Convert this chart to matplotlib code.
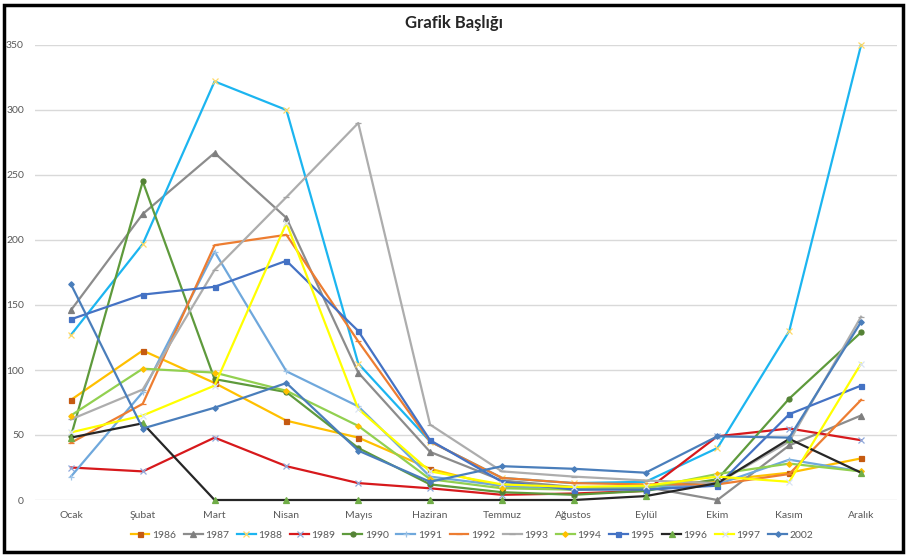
import matplotlib
matplotlib.use("Agg")
import matplotlib.pyplot as plt
from matplotlib.patches import Rectangle

plt.rcParams['font.family'] = ['Lato', 'DejaVu Sans']

months = ["Ocak", "Şubat", "Mart", "Nisan", "Mayıs", "Haziran", "Temmuz",
          "Ağustos", "Eylül", "Ekim", "Kasım", "Aralık"]

y1986 = [77, 115, 90, 61, 48, 24, 10, 9, 10, 15, 21, 32]
y1987 = [146, 220, 267, 217, 98, 37, 15, 10, 10, 0, 42, 65]
y1988 = [127, 197, 322, 300, 105, 45, 17, 13, 14, 40, 130, 350]
y1989 = [25, 22, 48, 26, 13, 9, 4, 5, 7, 49, 55, 46]
y1990 = [49, 245, 93, 83, 40, 12, 6, 4, 7, 16, 78, 129]
y1991 = [18, 83, 191, 99, 72, 18, 11, 8, 10, 12, 31, 22]
y1992 = [44, 74, 196, 204, 122, 45, 17, 13, 12, 12, 20, 77]
y1993 = [62, 85, 177, 233, 290, 58, 22, 18, 15, 13, 45, 141]
y1994 = [65, 101, 98, 84, 57, 16, 9, 8, 9, 20, 28, 22]
y1995 = [139, 158, 164, 184, 130, 46, 14, 8, 8, 11, 66, 88]
y1996 = [48, 59, 0, 0, 0, 0, 0, 0, 3, 13, 47, 21]
y1997 = [52, 65, 88, 213, 70, 22, 12, 10, 11, 18, 14, 105]
y2002 = [166, 55, 71, 90, 38, 14, 26, 24, 21, 49, 48, 137]

yticks = [0, 50, 100, 150, 200, 250, 300, 350]

# (label, values, line colour, marker, marker colour)
series = [
    ("1986", y1986, "#FFC000", "s", "#C55A11"),
    ("1987", y1987, "#8C8C8C", "^", "#7F7F7F"),
    ("1988", y1988, "#1CB5F0", "x", "#FFD966"),
    ("1989", y1989, "#D7191C", "x", "#8FAADC"),
    ("1990", y1990, "#5E9A3C", "o", "#548235"),
    ("1991", y1991, "#6FA8DC", "+", "#9DC3E6"),
    ("1992", y1992, "#ED7D31", "_", "#ED7D31"),
    ("1993", y1993, "#ADADAD", "_", "#A5A5A5"),
    ("1994", y1994, "#92D050", "D", "#FFC000"),
    ("1995", y1995, "#4472C4", "s", "#4472C4"),
    ("1996", y1996, "#262626", "^", "#70AD47"),
    ("1997", y1997, "#FFFF00", "x", "#DAE3F3"),
    ("2002", y2002, "#4A7EBB", "D", "#4A7EBB"),
]
marker_size = {"s": 3.6, "o": 3.6, "^": 3.8, "D": 2.8, "x": 3.8, "+": 4.2, "_": 4.0}

fig = plt.figure(figsize=(9.08, 5.56), dpi=100)
ax = fig.add_axes([35 / 908, 56 / 556, 862 / 908, 455 / 556])

x = list(range(len(months)))
for label, vals, lc, mk, mc in series:
    ax.plot(x, vals, color=lc, lw=1.6, marker=mk, markersize=marker_size[mk],
            markerfacecolor=mc, markeredgecolor=mc, markeredgewidth=0.9,
            label=label, clip_on=False)

ax.set_xlim(-0.5, len(months) - 0.5)
ax.set_ylim(0, 350)
ax.set_yticks(yticks)
ax.set_xticks(x)
ax.set_xticklabels(months)
ax.grid(axis="y", color="#D9D9D9", lw=1.0)
ax.set_axisbelow(True)
for s in ax.spines.values():
    s.set_visible(False)
ax.tick_params(axis="both", length=0, labelsize=7.5, labelcolor="#595959")
ax.tick_params(axis="y", pad=8)
ax.tick_params(axis="x", pad=8)

fig.text(0.5, 0.958, "Grafik Başlığı", ha="center", va="center",
         fontsize=12, fontweight="bold", color="#262626")

leg = fig.legend(loc="center", bbox_to_anchor=(0.52, 0.038), ncol=13,
                 frameon=False, fontsize=7.5, handlelength=1.8,
                 handletextpad=0.25, columnspacing=0.75)
for t in leg.get_texts():
    t.set_color("#595959")

fig.patches.append(Rectangle((4 / 908, 4 / 556), 899 / 908, 547 / 556,
                             transform=fig.transFigure, fill=False,
                             edgecolor="black", lw=2.5))

fig.savefig("out.png", dpi=100)
